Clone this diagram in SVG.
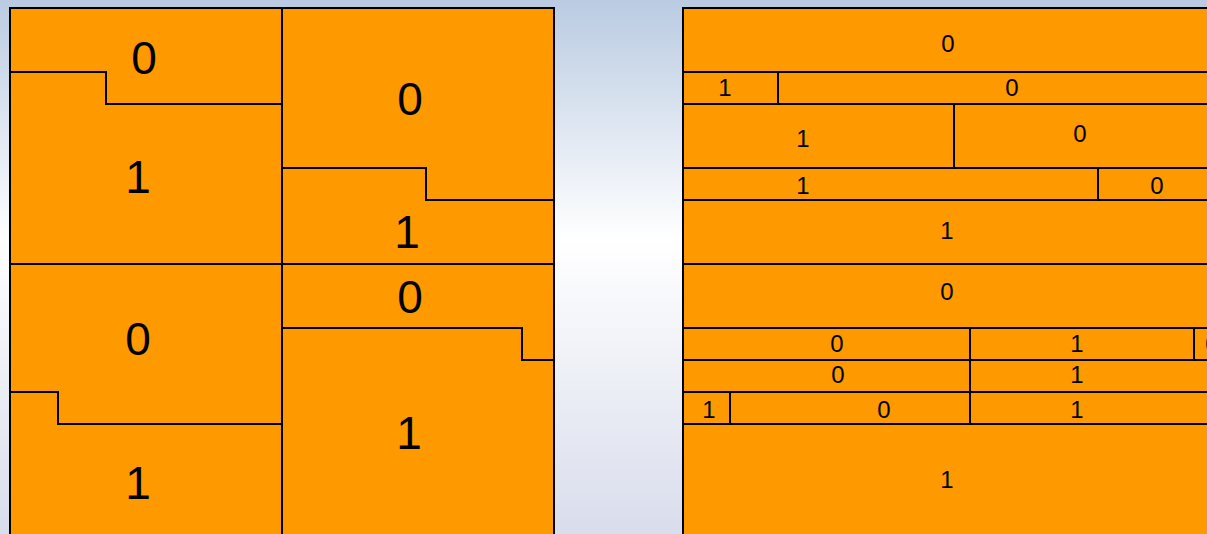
<svg xmlns="http://www.w3.org/2000/svg" width="1207" height="534" viewBox="0 0 1207 534">
<defs>
<linearGradient id="bg" x1="0" y1="0" x2="0" y2="1">
<stop offset="0" stop-color="#bacbe2"/>
<stop offset="0.45" stop-color="#ffffff"/>
<stop offset="1" stop-color="#d9ddec"/>
</linearGradient>
</defs>
<style>
.c{fill:#ff9900;stroke:#000;stroke-width:2;stroke-linejoin:miter}
.b{font-family:"Liberation Sans",Arial,sans-serif;font-size:46px;fill:#000;text-anchor:middle}
.s{font-family:"Liberation Sans",Arial,sans-serif;font-size:24px;fill:#000;text-anchor:middle}
</style>
<rect x="0" y="0" width="1207" height="534" fill="url(#bg)"/>
<g id="left-panel">
<g id="tl0"><polygon class="c" points="10,8 282,8 282,104 106,104 106,72 10,72"/><text class="b" x="144" y="74">0</text></g>
<g id="tl1"><polygon class="c" points="10,72 106,72 106,104 282,104 282,264 10,264"/><text class="b" x="138" y="193">1</text></g>
<g id="tr0"><polygon class="c" points="282,8 554,8 554,200 426,200 426,168 282,168"/><text class="b" x="410" y="115">0</text></g>
<g id="tr1"><polygon class="c" points="282,168 426,168 426,200 554,200 554,264 282,264"/><text class="b" x="407" y="248">1</text></g>
<g id="bl0"><polygon class="c" points="10,264 282,264 282,424 58,424 58,392 10,392"/><text class="b" x="138" y="355">0</text></g>
<g id="bl1"><polygon class="c" points="10,392 58,392 58,424 282,424 282,545 10,545"/><text class="b" x="138" y="499">1</text></g>
<g id="br0"><polygon class="c" points="282,264 554,264 554,360 522,360 522,328 282,328"/><text class="b" x="410" y="313">0</text></g>
<g id="br1"><polygon class="c" points="282,328 522,328 522,360 554,360 554,545 282,545"/><text class="b" x="409" y="449">1</text></g>
</g>
<g id="right-panel">
<g id="r1"><rect class="c" x="683" y="8" width="540" height="64"/><text class="s" x="948" y="52">0</text></g>
<g id="r2a"><rect class="c" x="683" y="72" width="95" height="32"/><text class="s" x="725" y="96">1</text></g>
<g id="r2b"><rect class="c" x="778" y="72" width="445" height="32"/><text class="s" x="1012" y="96">0</text></g>
<g id="r3a"><rect class="c" x="683" y="104" width="271" height="64"/><text class="s" x="803" y="147">1</text></g>
<g id="r3b"><rect class="c" x="954" y="104" width="269" height="64"/><text class="s" x="1080" y="142">0</text></g>
<g id="r4a"><rect class="c" x="683" y="168" width="415" height="32"/><text class="s" x="803" y="194">1</text></g>
<g id="r4b"><rect class="c" x="1098" y="168" width="125" height="32"/><text class="s" x="1157" y="194">0</text></g>
<g id="r5"><rect class="c" x="683" y="200" width="540" height="64"/><text class="s" x="947" y="239">1</text></g>
<g id="r6"><rect class="c" x="683" y="264" width="540" height="64"/><text class="s" x="947" y="300">0</text></g>
<g id="r7a"><rect class="c" x="683" y="328" width="287" height="32"/><text class="s" x="837" y="352">0</text></g>
<g id="r7b"><rect class="c" x="970" y="328" width="224" height="32"/><text class="s" x="1077" y="352">1</text></g>
<g id="r7c"><rect class="c" x="1194" y="328" width="40" height="32"/><text class="s" x="1212" y="352">0</text></g>
<g id="r8a"><rect class="c" x="683" y="360" width="287" height="32"/><text class="s" x="838" y="383">0</text></g>
<g id="r8b"><rect class="c" x="970" y="360" width="253" height="32"/><text class="s" x="1077" y="383">1</text></g>
<g id="r9a"><rect class="c" x="683" y="392" width="47" height="32"/><text class="s" x="709" y="418">1</text></g>
<g id="r9b"><rect class="c" x="730" y="392" width="240" height="32"/><text class="s" x="884" y="418">0</text></g>
<g id="r9c"><rect class="c" x="970" y="392" width="253" height="32"/><text class="s" x="1077" y="418">1</text></g>
<g id="r10"><rect class="c" x="683" y="424" width="540" height="120"/><text class="s" x="947" y="488">1</text></g>
</g>
<g id="connectors"/>
</svg>
